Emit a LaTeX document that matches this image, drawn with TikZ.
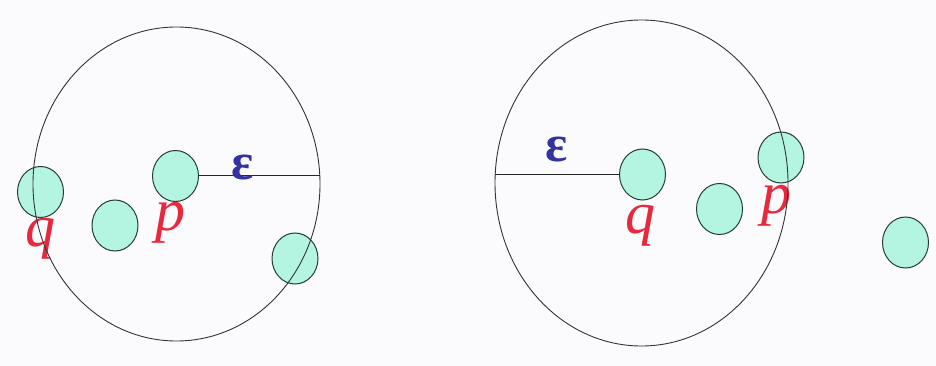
\documentclass[tikz,border=0pt]{standalone}
\usepackage{fontspec}
\setmainfont{Liberation Serif}
\usetikzlibrary{shapes.geometric}
\definecolor{mint}{RGB}{180,245,226}
\definecolor{ptedge}{RGB}{40,60,55}
\definecolor{lblred}{RGB}{232,40,60}
\definecolor{epsblue}{RGB}{50,50,160}
\definecolor{bg}{RGB}{251,251,253}
\tikzset{
  region/.style={ellipse, draw=black!80, line width=0.9pt, inner sep=0pt},
  pt/.style={ellipse, draw=ptedge, line width=1pt, fill=mint, inner sep=0pt, minimum width=46pt, minimum height=51pt},
  lbl/.style={text=lblred, font=\fontsize{60}{60}\selectfont\itshape, inner sep=0pt},
  eps/.style={text=epsblue, font=\fontsize{52}{52}\selectfont\bfseries, inner sep=0pt},
  radius line/.style={draw=black!85, line width=1pt}
}
\begin{document}
\begin{tikzpicture}[x=1pt,y=-1pt]
\fill[bg] (0,0) rectangle (936,366);
\useasboundingbox (0,0) rectangle (936,366);
% left points
\node[pt] (lq) at (40.5,192) {};
\node[pt] (l2) at (115,225.5) {};
\node[pt] (lp) at (175.5,176) {};
\node[pt] (l4) at (295,258.5) {};
% right points
\node[pt] (rq) at (642.5,174.5) {};
\node[pt] (r2) at (719.5,209) {};
\node[pt] (rp) at (781,157.5) {};
\node[pt] (r4) at (905.5,242.5) {};
% labels
\node[lbl] (lpl) at (170,223) {p};
\node[lbl] (lql) at (40,239) {q};
\node[lbl] (rql) at (640,226) {q};
\node[lbl] (rpl) at (776,206) {p};
% regions on top
\node[region, minimum width=287pt, minimum height=314pt] (L) at (176.5,184) {};
\node[region, minimum width=293pt, minimum height=326pt] (R) at (641.5,183) {};
\draw[radius line] (lp.east) -- (lp.east -| L.east);
\draw[radius line] (rq.west -| R.west) -- (rq.west);
\node[eps] (le) at (243,168) {ε};
\node[eps] (re) at (557,150) {ε};
\end{tikzpicture}
\end{document}
